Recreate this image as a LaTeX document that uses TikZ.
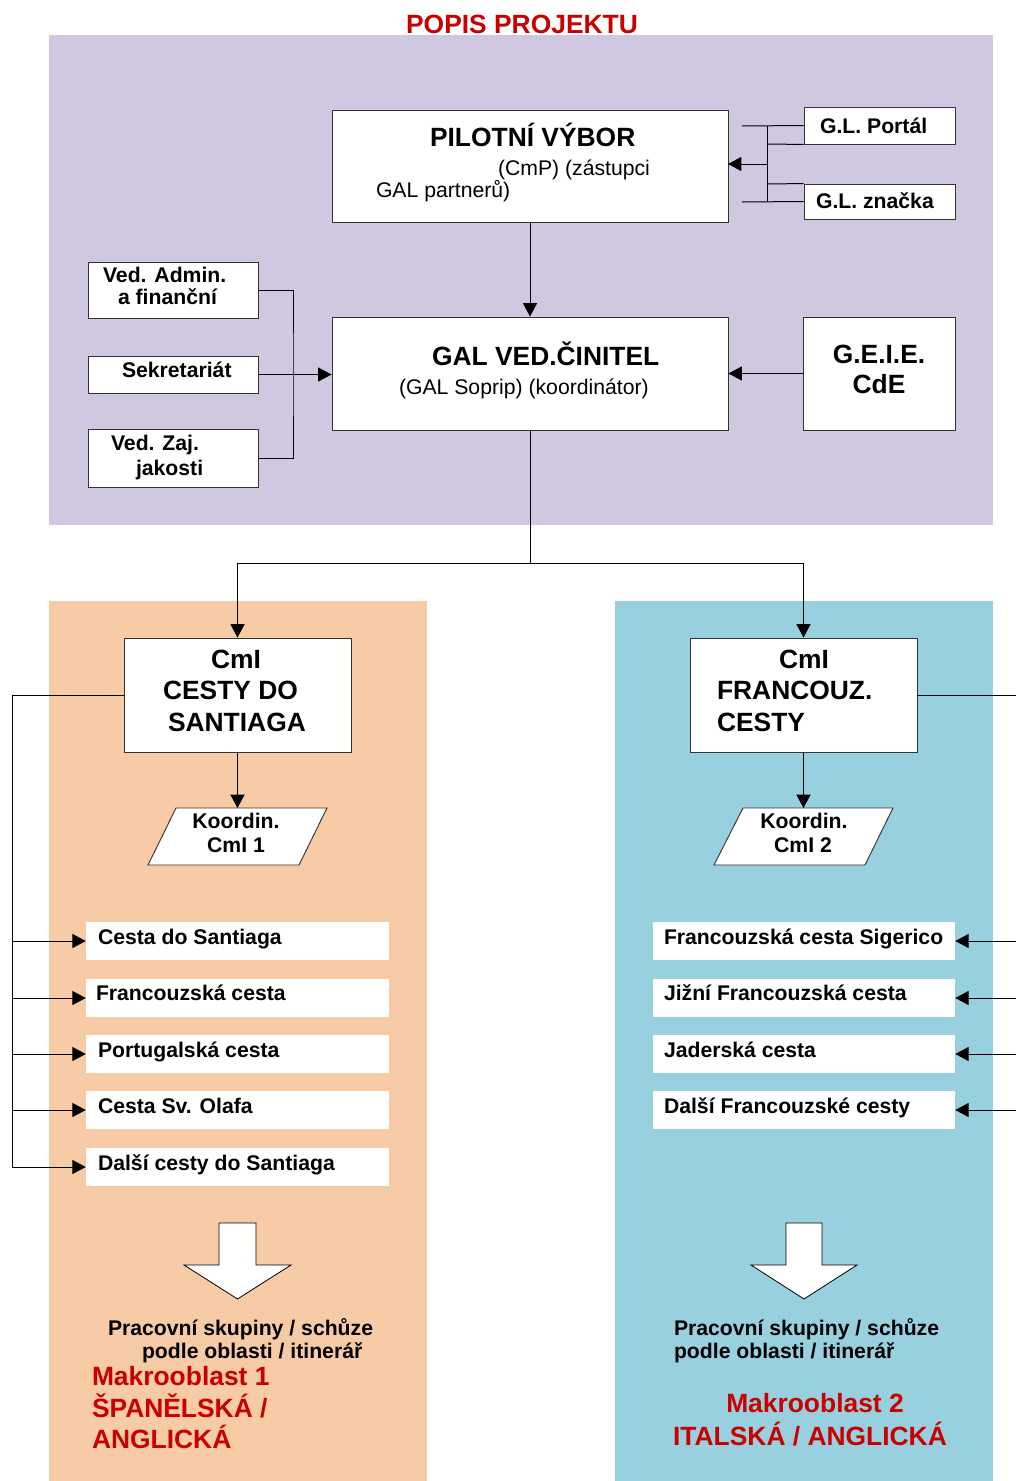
\documentclass[tikz,border=0pt]{standalone}
\usepackage{fontspec}
\setmainfont{Liberation Sans}
\usetikzlibrary{arrows.meta,fit}
\definecolor{lilac}{RGB}{208,200,224}
\definecolor{peach}{RGB}{248,203,167}
\definecolor{skyb}{RGB}{153,208,223}
\definecolor{headred}{RGB}{200,0,0}
\newcommand\bigtxt{\fontsize{19.8}{24}\selectfont\bfseries}
\newcommand\smtxt{\fontsize{15.9}{18}\selectfont}
\begin{document}
\begin{tikzpicture}[x=0.75pt,y=-0.75pt,
  box/.style={draw=black!80, line width=0.7pt, fill=white, inner sep=0pt},
  route/.style={fill=white, draw=none, inner sep=0pt},
  wire/.style={draw=black, line width=0.75pt},
  arr/.style={wire, -{Triangle[length=10pt,width=10.5pt]}},
  txt/.style={inner sep=0pt, outer sep=0pt},
  bt/.style={txt, font=\bigtxt},
  st/.style={txt, font=\smtxt\bfseries},
  sr/.style={txt, font=\smtxt},
  rt/.style={txt, font=\bigtxt, text=headred},
  blockarrow/.style={draw=black, line width=0.6pt, fill=white}]

% page and coloured panels
\useasboundingbox[fill=white] (0,0) rectangle (1016,1481);
\fill[lilac] (49,35) rectangle (993,525);
\fill[peach] (49,601) rectangle (427,1481);
\fill[skyb] (615,601) rectangle (993,1481);

\node[rt, anchor=base] (title) at (522,33) {POPIS PROJEKTU};

% ---- steering level ----
\node[box, fit={(332,110)(728,222)}] (pv) {};
\node[bt, anchor=base west] (pvt1) at (430,146) {PILOTNÍ VÝBOR};
\node[sr, anchor=base west] (pvt2) at (498,175) {(CmP) (zástupci};
\node[sr, anchor=base west] (pvt3) at (376,197) {GAL partnerů)};

\node[box, fit={(804,107)(955,144)}] (glp) {};
\node[st, anchor=base west] (glpt) at (820,133) {G.L. Portál};
\node[box, fit={(804,184)(955,219)}] (glz) {};
\node[st, anchor=base west] (glzt) at (816,208) {G.L. značka};

\coordinate (gla) at (742,126);
\coordinate (glb) at (742,202);
\coordinate (glv) at (767,126);
\draw[wire] (gla) -- (glp.west);
\draw[wire] (glb) -- (glz.west);
\draw[wire] (glv) -- (767,202);
\draw[wire] (767,144) -- (glp.south west);
\draw[wire] (767,184) -- (glz.north west);
\draw[arr] (767,164) -- (728,164);

% ---- coordination level ----
\node[box, fit={(332,317)(728,430)}] (gv) {};
\node[bt, anchor=base west] (gvt1) at (432,365) {GAL VED.ČINITEL};
\node[sr, anchor=base west] (gvt2) at (399,394) {(GAL Soprip) (koordinátor)};
\draw[arr] (pv.south) -- (gv.north);

\node[box, fit={(803,317)(955,430)}] (geie) {};
\node[bt, anchor=base] (geiet1) at (879,363) {G.E.I.E.};
\node[bt, anchor=base] (geiet2) at (879,393) {CdE};
\draw[arr] (geie.west) -- (gv.east);

\node[box, fit={(88,262)(258,318)}] (adm) {};
\node[st, anchor=base west] (admt1) at (103,282) {Ved. Admin.};
\node[st, anchor=base west] (admt2) at (118,304) {a finanční};
\node[box, fit={(88,356)(258,393)}] (sek) {};
\node[st, anchor=base west] (sekt) at (122,377) {Sekretariát};
\node[box, fit={(88,429)(258,487)}] (zaj) {};
\node[st, anchor=base west] (zajt1) at (111,450) {Ved. Zaj.};
\node[st, anchor=base west] (zajt2) at (136,475) {jakosti};

\coordinate (ljoin) at (293,374);
\draw[wire] (adm.east) -| (ljoin) |- (zaj.east);
\draw[arr] (sek.east) -- (sek.east -| gv.west);

% ---- split to the two itinerary committees ----
\coordinate (split) at (530,563);
\draw[wire] (gv.south) -- (split);

\node[box, fit={(124,638)(351,752)}] (ci1) {};
\node[bt, anchor=base] (ci1t1) at (236,668) {CmI};
\node[bt, anchor=base west] (ci1t2) at (163,699) {CESTY DO};
\node[bt, anchor=base west] (ci1t3) at (168,731) {SANTIAGA};

\node[box, fit={(690,638)(917,752)}] (ci2) {};
\node[bt, anchor=base] (ci2t1) at (804,668) {CmI};
\node[bt, anchor=base west] (ci2t2) at (717,699) {FRANCOUZ.};
\node[bt, anchor=base west] (ci2t3) at (717,731) {CESTY};

\draw[arr] (split) -| (ci1.north);
\draw[arr] (split) -| (ci2.north);

% coordinators
\draw[box] (176,808) -- (327,808) -- (299,865) -- (148,865) -- cycle;
\coordinate (k1n) at (237.5,808);
\node[st, anchor=base] (k1t1) at (236,828) {Koordin.};
\node[st, anchor=base] (k1t2) at (236,852) {CmI 1};
\draw[arr] (ci1.south) -- (k1n);

\draw[box] (743,808) -- (893,808) -- (865,865) -- (714,865) -- cycle;
\coordinate (k2n) at (803.5,808);
\node[st, anchor=base] (k2t1) at (804,828) {Koordin.};
\node[st, anchor=base] (k2t2) at (803,852) {CmI 2};
\draw[arr] (ci2.south) -- (k2n);

% ---- routes, left ----
\node[route, fit={(86,922)(389,960)}] (r1) {};
\node[route, fit={(86,979)(389,1017)}] (r2) {};
\node[route, fit={(86,1035)(389,1073)}] (r3) {};
\node[route, fit={(86,1091)(389,1129)}] (r4) {};
\node[route, fit={(86,1148)(389,1186)}] (r5) {};
\node[st, anchor=base west] (r1t) at (98,944) {Cesta do Santiaga};
\node[st, anchor=base west] (r2t) at (96,1000) {Francouzská cesta};
\node[st, anchor=base west] (r3t) at (98,1057) {Portugalská cesta};
\node[st, anchor=base west] (r4t) at (98,1113) {Cesta Sv. Olafa};
\node[st, anchor=base west] (r5t) at (98,1170) {Další cesty do Santiaga};

\coordinate (lbus) at (12,695);
\draw[wire] (ci1.west) -- (lbus) -- (lbus |- r5.west);
\foreach \r in {r1,r2,r3,r4,r5}
  \draw[arr] (lbus |- \r.west) -- (\r.west);

% ---- routes, right ----
\node[route, fit={(653,922)(955,960)}] (s1) {};
\node[route, fit={(653,979)(955,1017)}] (s2) {};
\node[route, fit={(653,1035)(955,1073)}] (s3) {};
\node[route, fit={(653,1091)(955,1129)}] (s4) {};
\node[st, anchor=base west] (s1t) at (664,944) {Francouzská cesta Sigerico};
\node[st, anchor=base west] (s2t) at (664,1000) {Jižní Francouzská cesta};
\node[st, anchor=base west] (s3t) at (664,1057) {Jaderská cesta};
\node[st, anchor=base west] (s4t) at (664,1113) {Další Francouzské cesty};

\coordinate (rbus) at (1020,695);
\draw[wire] (ci2.east) -- (rbus) -- (rbus |- s4.east);
\foreach \s in {s1,s2,s3,s4}
  \draw[arr] (rbus |- \s.east) -- (\s.east);

% ---- working groups ----
\draw[blockarrow] (219,1223) -- (256,1223) -- (256,1265) -- (291,1265)
  -- (237.5,1299) -- (184,1265) -- (219,1265) -- cycle;
\draw[blockarrow] (786,1223) -- (822,1223) -- (822,1265) -- (857,1265)
  -- (804,1299) -- (751,1265) -- (786,1265) -- cycle;

\node[st, anchor=base west] (w1a) at (108,1335) {Pracovní skupiny / schůze};
\node[st, anchor=base west] (w1b) at (142,1358) {podle oblasti / itinerář};
\node[rt, anchor=base west] (m1a) at (92,1385) {Makrooblast 1};
\node[rt, anchor=base west] (m1b) at (92,1417) {ŠPANĚLSKÁ /};
\node[rt, anchor=base west] (m1c) at (92,1448) {ANGLICKÁ};

\node[st, anchor=base west] (w2a) at (674,1335) {Pracovní skupiny / schůze};
\node[st, anchor=base west] (w2b) at (674,1358) {podle oblasti / itinerář};
\node[rt, anchor=base] (m2a) at (815,1412) {Makrooblast 2};
\node[rt, anchor=base] (m2b) at (810,1445) {ITALSKÁ / ANGLICKÁ};
\end{tikzpicture}
\end{document}
